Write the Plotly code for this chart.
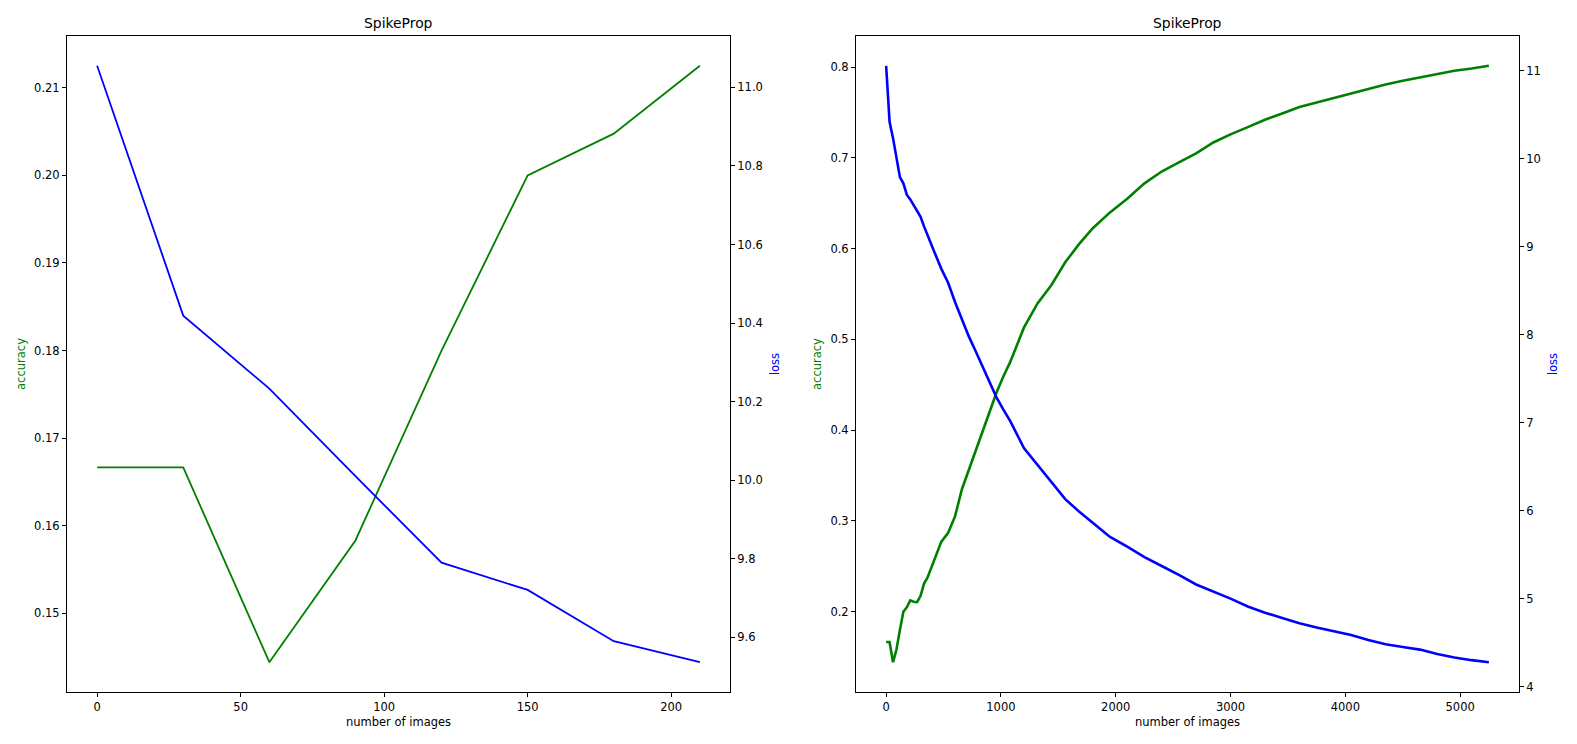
import plotly.graph_objects as go

# ---------------- data ----------------
# left panel (first 210 images)
x_left = [0, 30, 60, 90, 120, 150, 180, 210]
acc_left = [0.16667, 0.16667, 0.14444, 0.15833, 0.18000, 0.20000, 0.20476, 0.21250]
loss_left = [11.055, 10.419, 10.233, 10.010, 9.790, 9.7205, 9.590, 9.5365]

# right panel (full run)
x_right = [0, 30, 60, 90, 120, 150, 180, 210, 240, 270, 300, 330, 360, 420, 480, 540,
           600, 660, 720, 780, 840, 900, 960, 1020, 1080, 1200, 1320, 1440, 1560, 1680,
           1800, 1950, 2100, 2250, 2400, 2550, 2700, 2850, 3000, 3150, 3300, 3450, 3600,
           3750, 3900, 4050, 4200, 4350, 4500, 4650, 4800, 4950, 5100, 5250]
acc_right = [0.1667, 0.1667, 0.1444, 0.1583, 0.1800, 0.2000, 0.2048, 0.2125, 0.2110,
             0.2105, 0.2175, 0.2310, 0.2375, 0.2580, 0.2770, 0.2870, 0.3050, 0.3350,
             0.3560, 0.3780, 0.3990, 0.4200, 0.4410, 0.4590, 0.4750, 0.5130, 0.5400,
             0.5600, 0.5850, 0.6050, 0.6225, 0.6400, 0.6550, 0.6720, 0.6850, 0.6950,
             0.7050, 0.7170, 0.7260, 0.7340, 0.7420, 0.7490, 0.7560, 0.7610, 0.7660,
             0.7710, 0.7760, 0.7810, 0.7850, 0.7885, 0.7920, 0.7960, 0.7985, 0.8015]
loss_right = [11.055, 10.419, 10.233, 10.010, 9.790, 9.720, 9.590, 9.537, 9.470, 9.400,
              9.340, 9.230, 9.140, 8.940, 8.750, 8.590, 8.370, 8.170, 7.980, 7.810,
              7.640, 7.460, 7.290, 7.150, 7.020, 6.710, 6.520, 6.330, 6.130, 5.990,
              5.860, 5.700, 5.590, 5.470, 5.370, 5.270, 5.160, 5.080, 5.000, 4.910,
              4.840, 4.780, 4.720, 4.670, 4.630, 4.587, 4.530, 4.480, 4.450, 4.420,
              4.370, 4.330, 4.300, 4.277]

left_x_ticks = [0, 50, 100, 150, 200]
left_acc_ticks = [0.15, 0.16, 0.17, 0.18, 0.19, 0.20, 0.21]
left_loss_ticks = [9.6, 9.8, 10.0, 10.2, 10.4, 10.6, 10.8, 11.0]
right_x_ticks = [0, 1000, 2000, 3000, 4000, 5000]
right_acc_ticks = [0.2, 0.3, 0.4, 0.5, 0.6, 0.7, 0.8]
right_loss_ticks = [4, 5, 6, 7, 8, 9, 10, 11]

title_text = "SpikeProp"
xlabel = "number of images"
acc_label = "accuracy"
loss_label = "loss"


def padded(vals, frac=0.05):
    lo, hi = min(vals), max(vals)
    m = (hi - lo) * frac
    return [lo - m, hi + m]


FONT = "DejaVu Sans"
FS = 11.5
W, H = 1577, 744
ML, MR, MT, MB = 67, 58, 36, 52

fig = go.Figure()
fig.add_trace(go.Scatter(x=x_left, y=acc_left, mode="lines", line=dict(color="green", width=1.8),
                         xaxis="x", yaxis="y", showlegend=False))
fig.add_trace(go.Scatter(x=x_left, y=loss_left, mode="lines", line=dict(color="blue", width=1.8),
                         xaxis="x", yaxis="y2", showlegend=False))
fig.add_trace(go.Scatter(x=x_right, y=acc_right, mode="lines", line=dict(color="green", width=2.6),
                         xaxis="x2", yaxis="y3", showlegend=False))
fig.add_trace(go.Scatter(x=x_right, y=loss_right, mode="lines", line=dict(color="blue", width=2.6),
                         xaxis="x2", yaxis="y4", showlegend=False))

common = dict(showgrid=False, zeroline=False, showline=True, linecolor="black", linewidth=1,
              ticks="outside", ticklen=4, tickwidth=1, tickcolor="black",
              tickfont=dict(family=FONT, size=FS, color="black"), automargin=False)

pw = W - ML - MR
d1 = [0, (730 - ML) / pw]
d2 = [(856 - ML) / pw, 1]

fig.update_layout(
    width=W, height=H,
    margin=dict(l=ML, r=MR, t=MT, b=MB),
    paper_bgcolor="white", plot_bgcolor="white",
    font=dict(family=FONT, size=FS, color="black"),
    xaxis=dict(domain=d1, anchor="y", range=padded(x_left), tickvals=left_x_ticks, mirror=True,
               title=dict(text=xlabel, font=dict(family=FONT, size=FS), standoff=5), **common),
    yaxis=dict(domain=[0, 1], anchor="x", range=padded(acc_left), tickvals=left_acc_ticks,
               tickformat=".2f", mirror=True,
               title=dict(text=acc_label, font=dict(family=FONT, size=FS, color="green"), standoff=6),
               **common),
    yaxis2=dict(overlaying="y", anchor="x", side="right", range=padded(loss_left),
                tickvals=left_loss_ticks, tickformat=".1f",
                title=dict(text=loss_label, font=dict(family=FONT, size=FS, color="blue"), standoff=9),
                **common),
    xaxis2=dict(domain=d2, anchor="y3", range=padded(x_right), tickvals=right_x_ticks, mirror=True,
                title=dict(text=xlabel, font=dict(family=FONT, size=FS), standoff=5), **common),
    yaxis3=dict(domain=[0, 1], anchor="x2", range=padded(acc_right), tickvals=right_acc_ticks,
                tickformat=".1f", mirror=True,
                title=dict(text=acc_label, font=dict(family=FONT, size=FS, color="green"), standoff=6),
                **common),
    yaxis4=dict(overlaying="y3", anchor="x2", side="right", range=padded(loss_right),
                tickvals=right_loss_ticks, tickformat="d",
                title=dict(text=loss_label, font=dict(family=FONT, size=FS, color="blue"), standoff=9),
                **common),
)

for d in (d1, d2):
    fig.add_annotation(text=title_text, xref="paper", yref="paper",
                       x=(d[0] + d[1]) / 2, y=1 + 13 / (H - MT - MB), xanchor="center", yanchor="middle",
                       showarrow=False, font=dict(family=FONT, size=13.9, color="black"))

fig.write_html("out.html")
